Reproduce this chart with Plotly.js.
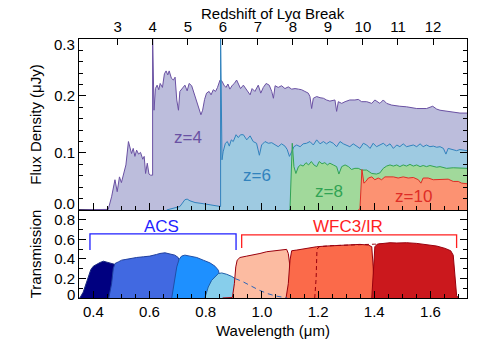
<!DOCTYPE html>
<html><head><meta charset="utf-8">
<script src="https://cdn.plot.ly/plotly-3.0.1.min.js"></script>
<style>html,body{margin:0;padding:0;background:#fff}#chart{width:491px;height:351px}</style>
</head><body><div id="chart"></div>
<script>
// ---------- data (wavelength in micron) ----------
const z4Wave = [0.349,0.453,0.465,0.477,0.485,0.493,0.500,0.509,0.516,0.525,0.530,0.536,0.542,0.548,0.554,0.561,0.568,0.576,0.581,0.586,0.592,0.598,0.604,0.611,0.611,0.616,0.621,0.627,0.633,0.638,0.646,0.653,0.659,0.665,0.670,0.678,0.685,0.691,0.697,0.703,0.708,0.718,0.726,0.734,0.741,0.750,0.756,0.763,0.770,0.777,0.783,0.789,0.796,0.803,0.812,0.819,0.827,0.835,0.842,0.851,0.858,0.865,0.872,0.879,0.886,0.895,0.902,0.910,0.917,0.924,0.934,0.946,0.958,0.965,0.975,0.987,0.996,1.005,1.015,1.026,1.035,1.041,1.047,1.058,1.070,1.082,1.094,1.106,1.118,1.130,1.141,1.153,1.165,1.171,1.177,1.183,1.195,1.207,1.219,1.230,1.242,1.260,1.266,1.272,1.284,1.296,1.313,1.331,1.343,1.355,1.373,1.391,1.402,1.420,1.432,1.444,1.462,1.491,1.515,1.551,1.586,1.608,1.622,1.634,1.669,1.705,1.730];
const z4Flux = [0,0.001,0.023,0.053,0.032,0.058,0.048,0.065,0.079,0.120,0.111,0.099,0.108,0.094,0.105,0.098,0.101,0.089,0.094,0.064,0.082,0.063,0.061,0.061,0.305,0.175,0.213,0.219,0.211,0.222,0.215,0.239,0.244,0.237,0.244,0.231,0.228,0.233,0.193,0.175,0.208,0.215,0.219,0.209,0.222,0.218,0.208,0.199,0.187,0.173,0.167,0.175,0.194,0.205,0.208,0.202,0.211,0.208,0.215,0.228,0.226,0.219,0.215,0.221,0.212,0.219,0.222,0.228,0.219,0.213,0.219,0.211,0.202,0.213,0.208,0.219,0.205,0.215,0.222,0.219,0.208,0.196,0.218,0.215,0.218,0.213,0.216,0.212,0.213,0.212,0.211,0.208,0.205,0.199,0.178,0.196,0.199,0.197,0.196,0.193,0.191,0.193,0.173,0.190,0.187,0.190,0.193,0.193,0.194,0.190,0.190,0.187,0.193,0.187,0.193,0.187,0.184,0.182,0.181,0.178,0.178,0.182,0.177,0.175,0.173,0.170,0.170];

const z6Wave = [0.661,0.708,0.726,0.734,0.744,0.762,0.791,0.827,0.851,0.853,0.853,0.858,0.862,0.870,0.877,0.884,0.891,0.898,0.908,0.916,0.924,0.934,0.946,0.958,0.969,0.981,0.991,0.999,1.011,1.023,1.035,1.047,1.058,1.070,1.082,1.090,1.098,1.106,1.114,1.124,1.136,1.147,1.159,1.171,1.183,1.195,1.207,1.219,1.230,1.242,1.254,1.266,1.278,1.290,1.302,1.313,1.325,1.337,1.349,1.361,1.373,1.385,1.396,1.408,1.420,1.432,1.444,1.456,1.468,1.480,1.491,1.503,1.515,1.527,1.539,1.551,1.563,1.574,1.586,1.598,1.610,1.622,1.634,1.646,1.655,1.663,1.681,1.693,1.705,1.730];
const z6Flux = [0,0.006,0.018,0.019,0.016,0.013,0.011,0.008,0.006,0.006,0.305,0.088,0.102,0.117,0.120,0.112,0.123,0.120,0.132,0.127,0.132,0.132,0.123,0.130,0.120,0.117,0.096,0.114,0.120,0.117,0.118,0.114,0.111,0.116,0.112,0.106,0.094,0.102,0.111,0.114,0.111,0.116,0.117,0.120,0.114,0.123,0.116,0.120,0.116,0.120,0.117,0.111,0.120,0.116,0.114,0.111,0.116,0.112,0.108,0.117,0.114,0.108,0.117,0.111,0.114,0.117,0.112,0.116,0.108,0.114,0.111,0.116,0.111,0.112,0.114,0.111,0.116,0.111,0.114,0.111,0.112,0.110,0.111,0.108,0.098,0.108,0.105,0.104,0.106,0.104];

const z8Wave = [1.098,1.100,1.108,1.114,1.121,1.130,1.138,1.147,1.157,1.166,1.176,1.185,1.195,1.204,1.214,1.224,1.233,1.242,1.254,1.266,1.274,1.284,1.296,1.308,1.319,1.331,1.343,1.355,1.373,1.391,1.408,1.420,1.432,1.444,1.456,1.468,1.480,1.491,1.503,1.515,1.527,1.539,1.551,1.563,1.574,1.586,1.598,1.610,1.622,1.634,1.646,1.657,1.681,1.705,1.730];
const z8Flux = [0,0.002,0.117,0.076,0.064,0.076,0.079,0.077,0.083,0.079,0.085,0.079,0.076,0.085,0.081,0.083,0.079,0.082,0.079,0.076,0.063,0.076,0.079,0.076,0.071,0.073,0.073,0.070,0.070,0.064,0.063,0.065,0.073,0.077,0.079,0.077,0.079,0.076,0.079,0.077,0.080,0.077,0.079,0.076,0.078,0.076,0.078,0.076,0.075,0.076,0.075,0.073,0.074,0.073,0.073];

const z10Wave = [1.343,1.349,1.356,1.363,1.370,1.379,1.391,1.402,1.414,1.426,1.438,1.450,1.468,1.485,1.503,1.521,1.539,1.557,1.566,1.574,1.592,1.610,1.628,1.646,1.663,1.681,1.699,1.711,1.730];
const z10Flux = [0,0.002,0.071,0.047,0.050,0.056,0.058,0.053,0.056,0.053,0.058,0.058,0.058,0.056,0.058,0.056,0.057,0.053,0.047,0.056,0.056,0.053,0.053,0.054,0.054,0.050,0.050,0.047,0.046];

const f435Wave = [0.350,0.353,0.364,0.374,0.382,0.391,0.400,0.412,0.424,0.436,0.447,0.459,0.469,0.475,0.481,0.487,0.495];
const f435T    = [0,0.005,0.06,0.146,0.232,0.29,0.325,0.345,0.363,0.376,0.369,0.359,0.352,0.345,0.30,0.15,0];
const f606Wave = [0.455,0.465,0.471,0.477,0.489,0.501,0.513,0.530,0.554,0.578,0.601,0.625,0.637,0.655,0.667,0.679,0.690,0.702,0.714,0.726,0.738];
const f606T    = [0,0.146,0.30,0.352,0.369,0.387,0.393,0.404,0.414,0.421,0.428,0.445,0.455,0.462,0.455,0.448,0.438,0.414,0.318,0.112,0];
const f775Wave = [0.679,0.687,0.697,0.705,0.714,0.726,0.744,0.768,0.791,0.815,0.833,0.845,0.853,0.860,0.865];
const f775T    = [0,0.146,0.318,0.393,0.428,0.438,0.428,0.414,0.387,0.359,0.325,0.284,0.18,0.043,0];
const f850Wave = [0.797,0.809,0.821,0.833,0.845,0.857,0.875,0.893,0.905,0.930,0.960,0.990,1.020,1.050,1.080,1.090];
const f850T    = [0,0.112,0.18,0.22,0.25,0.256,0.242,0.22,0.198,0.17,0.125,0.08,0.045,0.02,0.005,0];
const f105Wave = [0.860,0.895,0.902,0.907,0.912,0.922,0.946,0.969,0.993,1.017,1.041,1.064,1.088,1.094,1.100,1.109];
const f105T    = [0,0.005,0.146,0.318,0.387,0.414,0.428,0.438,0.455,0.473,0.483,0.49,0.497,0.455,0.318,0];
const f125Wave = [1.086,1.094,1.100,1.106,1.124,1.159,1.195,1.230,1.278,1.313,1.349,1.379,1.391,1.396,1.402];
const f125T    = [0,0.146,0.387,0.483,0.49,0.507,0.524,0.531,0.541,0.545,0.548,0.541,0.524,0.318,0];
const f140Wave = [1.188,1.193,1.196,1.205,1.250,1.300,1.350,1.400,1.450,1.500,1.550,1.580,1.600,1.610];
const f140T    = [0,0.2,0.50,0.525,0.535,0.542,0.547,0.55,0.552,0.552,0.548,0.5,0.3,0];
const f160Wave = [1.391,1.396,1.402,1.411,1.432,1.456,1.480,1.515,1.551,1.586,1.622,1.652,1.672,1.681,1.687,1.693,1.699];
const f160T    = [0,0.213,0.524,0.551,0.558,0.565,0.562,0.565,0.558,0.548,0.531,0.507,0.483,0.438,0.213,0.026,0];

const acsSpan  = [0.388, 0.908];
const wfc3Span = [0.928, 1.693];
const zTicks = [3,4,5,6,7,8,9,10,11,12];
const lamTicks = [0.4,0.6,0.8,1.0,1.2,1.4,1.6];
const fluxTicks = [0,0.1,0.2,0.3];
const fluxTickText = ['0.0','0.1','0.2','0.3'];
const transTicks = [0,0.2,0.4,0.6,0.8];
const transTickText = ['0','0.2','0.4','0.6','0.8'];

// ---------- build ----------
const FONT = 'Liberation Sans, Arial, Helvetica, sans-serif';
function spec(x, y, fill, line) {
  return {x, y, xaxis:'x2', yaxis:'y', type:'scatter', mode:'lines', fill:'tozeroy',
    fillcolor:fill, line:{color:line, width:1}, hoverinfo:'skip'};
}
function filt(x, y, fill, line) {
  return {x, y, xaxis:'x', yaxis:'y2', type:'scatter', mode:'lines', fill:'tozeroy',
    fillcolor:fill, line:{color:line, width:1}, hoverinfo:'skip'};
}
function bracket(span, top, foot, color) {
  return {x:[span[0],span[0],span[1],span[1]], y:[foot,top,top,foot], xaxis:'x', yaxis:'y2',
    type:'scatter', mode:'lines', line:{color:color, width:1.3}, hoverinfo:'skip'};
}
const tailIdx = f850Wave.map((w,i)=>i).filter(i => f850Wave[i] >= 0.905);

const traces = [
  spec(z4Wave, z4Flux, '#bcbddc', '#6a51a3'),
  spec(z6Wave, z6Flux, '#9ecae1', '#3182bd'),
  spec(z8Wave, z8Flux, '#a1d99b', '#31a354'),
  spec(z10Wave, z10Flux, '#fc9272', '#de2d26'),
  filt(f435Wave, f435T, '#000080', '#1a2a80'),
  filt(f606Wave, f606T, '#4169e1', '#1f3f9f'),
  filt(f775Wave, f775T, '#1e90ff', '#1f4fa8'),
  filt(f850Wave, f850T, '#87ceeb', '#1f5fa8'),
  filt(f105Wave, f105T, '#fcbba1', '#99000d'),
  filt(f125Wave, f125T, '#fb6a4a', '#99000d'),
  {x:f140Wave, y:f140T, xaxis:'x', yaxis:'y2', type:'scatter', mode:'lines',
   line:{color:'#99000d', width:1, dash:'4px,3px'}, hoverinfo:'skip'},
  filt(f160Wave, f160T, '#cb181d', '#99000d'),
  {x:tailIdx.map(i=>f850Wave[i]), y:tailIdx.map(i=>f850T[i]), xaxis:'x', yaxis:'y2', type:'scatter', mode:'lines',
   line:{color:'#2b65b8', width:1, dash:'5px,4px'}, hoverinfo:'skip'},
  bracket(acsSpan, 0.655, 0.49, '#1f1fff'),
  bracket(wfc3Span, 0.645, 0.51, '#ff1f1f'),
  {x:zTicks, y:zTicks.map(()=>0), xaxis:'x3', yaxis:'y', type:'scatter', mode:'none', hoverinfo:'skip', showlegend:false}
];

const XR = [0.349, 1.730];
const axBase = {showline:true, linecolor:'#000', linewidth:1, ticks:'inside', tickcolor:'#000', tickwidth:1,
  showgrid:false, zeroline:false, tickfont:{family:FONT, size:15, color:'#000'}};

// edge tick labels are nudged inward (as in the reference), so draw those as annotations
const tickFont = {family:FONT, size:15, color:'#000'};
function edgeLabel(text, yref, yval, shift) {
  return {text, xref:'paper', x:0, xanchor:'right', xshift:-2, yref, y:yval, yanchor:'middle', yshift:shift,
    showarrow:false, font:tickFont};
}

const layout = {
  width:491, height:351,
  margin:{l:79, r:24, t:39, b:53},
  paper_bgcolor:'#fff', plot_bgcolor:'#fff', showlegend:false,
  font:{family:FONT, size:15, color:'#000'},
  xaxis: Object.assign({}, axBase, {domain:[0,1], anchor:'y2', range:XR, tickvals:lamTicks, tickformat:'.1f',
    ticklen:7, mirror:true, minor:{ticks:'inside', dtick:0.05, tick0:0, ticklen:4, tickcolor:'#000'},
    title:{text:'Wavelength (μm)', font:{family:FONT, size:15}, standoff:6}}),
  xaxis2: Object.assign({}, axBase, {domain:[0,1], anchor:'y', range:XR, tickvals:lamTicks, ticklen:7,
    showticklabels:false, mirror:false, minor:{ticks:'inside', dtick:0.05, tick0:0, ticklen:4, tickcolor:'#000'}}),
  xaxis3: Object.assign({}, axBase, {overlaying:'x2', anchor:'y', side:'top', range:[1.894, 12.97],
    tickvals:zTicks, ticklen:6}),
  yaxis: Object.assign({}, axBase, {domain:[0.34,1], anchor:'x2', range:[0,0.3], tickvals:fluxTicks,
    ticktext:fluxTickText.map((t,i)=> (i===0||i===fluxTicks.length-1) ? '' : t), ticklen:7, mirror:'ticks',
    minor:{ticks:'inside', dtick:0.02, tick0:0, ticklen:4, tickcolor:'#000'},
    title:{text:'Flux Density (μJy)', font:{family:FONT, size:15}, standoff:8}}),
  yaxis2: Object.assign({}, axBase, {domain:[0,0.34], anchor:'x', range:[0,0.9], tickvals:transTicks,
    ticktext:transTickText.map((t,i)=> i===0 ? '' : t), ticklen:7, mirror:'ticks',
    minor:{ticks:'inside', dtick:0.1, tick0:0, ticklen:4, tickcolor:'#000'},
    title:{text:'Transmission', font:{family:FONT, size:15}, standoff:8}}),
  annotations: [
    {text:'Redshift of Lyα Break', xref:'paper', x:0.5, yref:'paper', y:1, yanchor:'middle', yshift:26,
     showarrow:false, font:{family:FONT, size:15, color:'#000'}},
    edgeLabel(fluxTickText[0], 'y', fluxTicks[0], 6),
    edgeLabel(fluxTickText[fluxTickText.length-1], 'y', fluxTicks[fluxTicks.length-1], -5),
    edgeLabel(transTickText[0], 'y2', transTicks[0], 3.5),
    {text:'z=4', x:0.737, y:0.128, xref:'x2', yref:'y', showarrow:false, font:{family:FONT, size:17, color:'#6a51a3'}},
    {text:'z=6', x:0.982, y:0.061, xref:'x2', yref:'y', showarrow:false, font:{family:FONT, size:17, color:'#3182bd'}},
    {text:'z=8', x:1.239, y:0.033, xref:'x2', yref:'y', showarrow:false, font:{family:FONT, size:17, color:'#31a354'}},
    {text:'z=10', x:1.541, y:0.023, xref:'x2', yref:'y', showarrow:false, font:{family:FONT, size:17, color:'#de2d26'}},
    {text:'ACS', x:0.643, y:0.73, xref:'x', yref:'y2', showarrow:false, font:{family:FONT, size:17, color:'#1f1fff'}},
    {text:'WFC3/IR', x:1.306, y:0.73, xref:'x', yref:'y2', showarrow:false, font:{family:FONT, size:17, color:'#ff1f1f'}}
  ]
};

Plotly.newPlot('chart', traces, layout, {displayModeBar:false, staticPlot:true});
</script>
</body></html>
